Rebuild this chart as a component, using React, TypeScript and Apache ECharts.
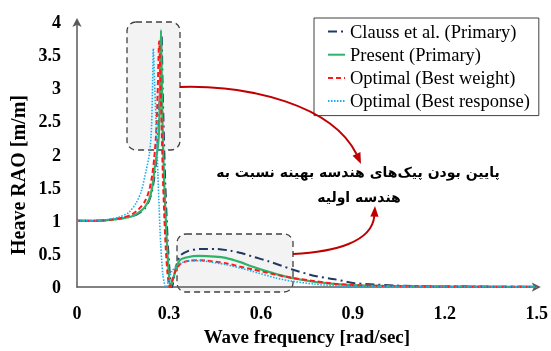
import React, { useEffect, useRef } from "react";
import * as echarts from "echarts";

const SERIES_NAMES = [
  "Clauss et al. (Primary)",
  "Present (Primary)",
  "Optimal (Best weight)",
  "Optimal (Best response)",
];

const X_TICKS = [0, 0.3, 0.6, 0.9, 1.2, 1.5];
const Y_TICKS = [0, 0.5, 1, 1.5, 2, 2.5, 3, 3.5, 4];

const FREQ_CLAUSS = [0, 0.05, 0.1, 0.15, 0.18, 0.2, 0.22, 0.235, 0.245, 0.255, 0.263, 0.268, 0.272, 0.276, 0.279, 0.283, 0.287, 0.292, 0.297, 0.302, 0.306, 0.31, 0.318, 0.334, 0.36, 0.4, 0.452, 0.5, 0.539, 0.58, 0.625, 0.7, 0.777, 0.841, 0.906, 0.971, 1.036, 1.1, 1.2, 1.35, 1.5];
const RAO_CLAUSS = [1, 1, 1.01, 1.04, 1.07, 1.11, 1.18, 1.3, 1.45, 1.75, 2.15, 2.6, 3.2, 3.8, 3.1, 2.35, 1.7, 1.1, 0.6, 0.25, 0.05, 0.0, 0.2, 0.46, 0.54, 0.576, 0.576, 0.55, 0.51, 0.45, 0.39, 0.27, 0.167, 0.118, 0.06, 0.04, 0.025, 0.015, 0.01, 0.007, 0.005];

const FREQ_PRESENT = [0, 0.05, 0.1, 0.15, 0.18, 0.2, 0.22, 0.235, 0.245, 0.255, 0.262, 0.267, 0.271, 0.274, 0.277, 0.28, 0.284, 0.288, 0.293, 0.298, 0.302, 0.305, 0.315, 0.334, 0.36, 0.399, 0.45, 0.485, 0.53, 0.571, 0.647, 0.7, 0.776, 0.84, 0.9, 1.0, 1.2, 1.5];
const RAO_PRESENT = [1, 1, 1.01, 1.04, 1.07, 1.12, 1.2, 1.32, 1.5, 1.85, 2.05, 2.3, 3.0, 3.88, 3.0, 2.26, 1.65, 1.2, 0.7, 0.3, 0.08, 0.0, 0.15, 0.4, 0.45, 0.47, 0.46, 0.44, 0.38, 0.31, 0.2, 0.14, 0.08, 0.05, 0.03, 0.018, 0.008, 0.004];

const FREQ_WEIGHT = [0, 0.05, 0.1, 0.15, 0.18, 0.2, 0.22, 0.235, 0.245, 0.252, 0.258, 0.263, 0.268, 0.272, 0.276, 0.28, 0.285, 0.29, 0.295, 0.3, 0.303, 0.312, 0.322, 0.34, 0.37, 0.39, 0.42, 0.485, 0.53, 0.571, 0.647, 0.7, 0.776, 0.84, 0.9, 1.0, 1.15, 1.3, 1.5];
const RAO_WEIGHT = [1, 1, 1.01, 1.05, 1.1, 1.17, 1.28, 1.45, 1.68, 1.95, 2.3, 2.9, 3.71, 3.2, 2.45, 1.7, 1.05, 0.55, 0.22, 0.03, 0.0, 0.12, 0.25, 0.36, 0.4, 0.405, 0.4, 0.36, 0.31, 0.27, 0.19, 0.14, 0.09, 0.05, 0.03, 0.018, 0.01, 0.007, 0.005];

const FREQ_RESPONSE = [0, 0.05, 0.1, 0.14, 0.17, 0.193, 0.21, 0.226, 0.236, 0.242, 0.246, 0.249, 0.253, 0.257, 0.26, 0.264, 0.268, 0.273, 0.28, 0.287, 0.292, 0.298, 0.31, 0.33, 0.355, 0.377, 0.42, 0.485, 0.53, 0.571, 0.647, 0.7, 0.776, 0.84, 0.9, 1.0, 1.2, 1.5];
const RAO_RESPONSE = [1, 1, 1.02, 1.06, 1.13, 1.27, 1.45, 1.77, 2.0, 2.3, 2.9, 3.6, 3.1, 2.6, 2.26, 1.7, 1.2, 0.65, 0.19, 0.02, 0.0, 0.1, 0.24, 0.34, 0.39, 0.4, 0.39, 0.34, 0.29, 0.24, 0.14, 0.09, 0.044, 0.02, 0.012, 0.008, 0.005, 0.003];

const ANNOTATION_LINE1 = "پایین بودن پیک‌های هندسه بهینه نسبت به";
const ANNOTATION_LINE2 = "هندسه اولیه";
const X_NAME = "Wave frequency [rad/sec]";
const Y_NAME = "Heave RAO [m/m]";

const zip = (xs: number[], ys: number[]) => xs.map((x, i) => [x, ys[i]]);

export default function App() {
  const ref = useRef<HTMLDivElement>(null);
  useEffect(() => {
    if (!ref.current) return;
    const chart = echarts.init(ref.current, undefined, { renderer: "svg" });
    const serif = "Liberation Serif";
    const axisLine = {
      show: true,
      symbol: ["none", "arrow"],
      symbolSize: [7, 9],
      symbolOffset: [0, 4],
      lineStyle: { color: "#595959", width: 1.5 },
    };
    const lineSeries = (name: string, data: number[][], color: string, type: any, width: number, z: number) => ({
      name,
      type: "line",
      data,
      showSymbol: false,
      symbol: "none",
      smooth: 0.25,
      z,
      lineStyle: { color, type, width },
      itemStyle: { color },
    });
    chart.setOption({
      animation: false,
      grid: { left: 77, right: 11, top: 22, bottom: 58, containLabel: false },
      legend: {
        show: true,
        orient: "vertical",
        left: 314,
        top: 18,
        padding: [4, 9, 5, 13],
        itemGap: 4.2,
        itemWidth: 17,
        itemHeight: 14,
        backgroundColor: "#fff",
        borderColor: "#404040",
        borderWidth: 1,
        borderRadius: 0,
        itemStyle: { opacity: 0, borderWidth: 0 },
        textStyle: { fontFamily: serif, fontSize: 18.5, color: "#000", lineHeight: 18.5 },
        data: SERIES_NAMES,
      },
      xAxis: {
        type: "value",
        min: 0,
        max: 1.5,
        interval: 0.3,
        name: X_NAME,
        nameLocation: "middle",
        nameGap: 39,
        nameTextStyle: { fontFamily: serif, fontSize: 19, fontWeight: "bold", color: "#000" },
        axisLine,
        axisTick: { show: false },
        splitLine: { show: false },
        axisLabel: {
          margin: 17,
          fontFamily: serif,
          fontSize: 18,
          fontWeight: "bold",
          color: "#000",
          formatter: (v: number) => {
            const t = X_TICKS.find((k) => Math.abs(k - v) < 1e-6);
            return t === undefined ? "" : String(t);
          },
        },
      },
      yAxis: {
        type: "value",
        min: 0,
        max: 4,
        interval: 0.5,
        axisLine,
        axisTick: { show: false },
        splitLine: { show: false },
        axisLabel: {
          margin: 16,
          fontFamily: serif,
          fontSize: 18,
          fontWeight: "bold",
          color: "#000",
          formatter: (v: number) => {
            const t = Y_TICKS.find((k) => Math.abs(k - v) < 1e-6);
            return t === undefined ? "" : String(t);
          },
        },
      },
      graphic: [
        {
          type: "rect",
          z: 0,
          shape: { x: 127, y: 22, width: 53, height: 128, r: 9 },
          style: { fill: "#f3f3f3", stroke: "#404040", lineWidth: 1.3, lineDash: [6, 4] },
        },
        {
          type: "rect",
          z: 0,
          shape: { x: 177, y: 234, width: 116, height: 58, r: 9 },
          style: { fill: "#f3f3f3", stroke: "#404040", lineWidth: 1.3, lineDash: [6, 4] },
        },
        {
          type: "bezierCurve",
          z: 50,
          shape: { x1: 180, y1: 87, cpx1: 250, cpy1: 85, cpx2: 332, cpy2: 105, x2: 356.5, y2: 154 },
          style: { stroke: "#c00000", lineWidth: 2, fill: null },
        },
        {
          type: "polygon",
          z: 50,
          shape: { points: [[361, 164], [352.6, 155.8], [360.4, 152]] },
          style: { fill: "#c00000" },
        },
        {
          type: "bezierCurve",
          z: 50,
          shape: { x1: 293, y1: 254, cpx1: 335, cpy1: 252, cpx2: 372, cpy2: 242, x2: 374.3, y2: 216 },
          style: { stroke: "#c00000", lineWidth: 2, fill: null },
        },
        {
          type: "polygon",
          z: 50,
          shape: { points: [[375, 206], [370.3, 216.5], [378.5, 216.8]] },
          style: { fill: "#c00000" },
        },
        {
          type: "text",
          z: 60,
          x: 358,
          y: 172,
          style: {
            text: ANNOTATION_LINE1,
            fontFamily: "DejaVu Sans",
            fontWeight: "bold",
            fontSize: 14,
            fill: "#000",
            align: "center",
            verticalAlign: "middle",
          },
        },
        {
          type: "text",
          z: 60,
          x: 359,
          y: 197,
          style: {
            text: ANNOTATION_LINE2,
            fontFamily: "DejaVu Sans",
            fontWeight: "bold",
            fontSize: 14,
            fill: "#000",
            align: "center",
            verticalAlign: "middle",
          },
        },
        {
          type: "text",
          z: 60,
          x: 18,
          y: 175,
          rotation: Math.PI / 2,
          style: {
            text: Y_NAME,
            fontFamily: serif,
            fontWeight: "bold",
            fontSize: 20,
            fill: "#000",
            align: "center",
            verticalAlign: "middle",
          },
        },
      ],
      series: [
        lineSeries(SERIES_NAMES[0], zip(FREQ_CLAUSS, RAO_CLAUSS), "#1f3864", [9, 4, 2, 4], 2, 2),
        lineSeries(SERIES_NAMES[1], zip(FREQ_PRESENT, RAO_PRESENT), "#2eb36a", "solid", 2.2, 3),
        lineSeries(SERIES_NAMES[2], zip(FREQ_WEIGHT, RAO_WEIGHT), "#ff1a1a", [5, 3], 2, 4),
        lineSeries(SERIES_NAMES[3], zip(FREQ_RESPONSE, RAO_RESPONSE), "#1aaeef", [1.5, 1.5], 1.6, 5),
      ],
    });
    return () => chart.dispose();
  }, []);
  return <div ref={ref} style={{ position: "fixed", left: 0, top: 0, width: 551, height: 351 }} />;
}
